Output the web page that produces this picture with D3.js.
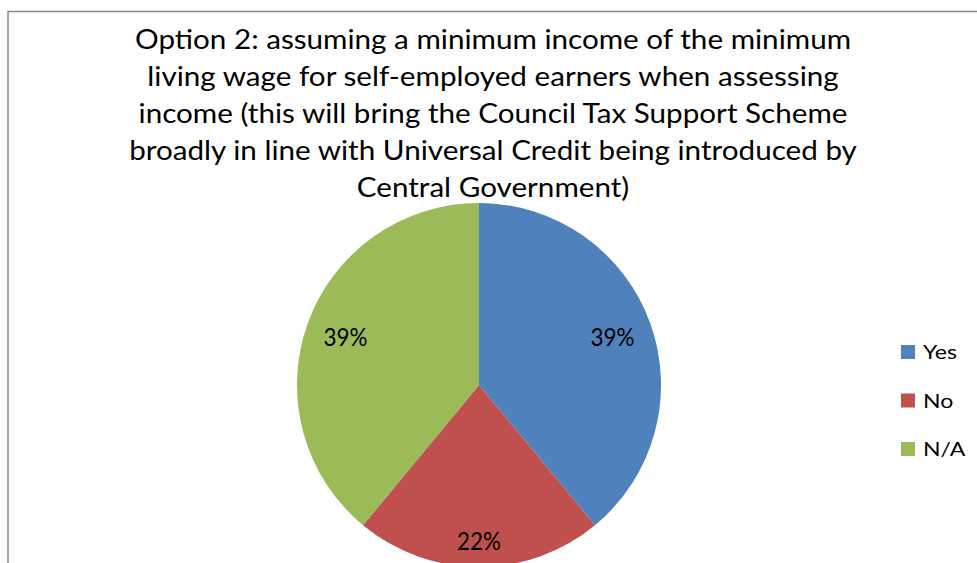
<!DOCTYPE html>
<html>
<head>
<meta charset="utf-8">
<script src="https://cdn.jsdelivr.net/npm/d3@7"></script>
<style>
  html, body { margin: 0; padding: 0; background: #fff; }
  svg { display: block; font-family: Lato, "Open Sans", sans-serif; }
</style>
</head>
<body>
<svg id="chart" width="977" height="563"></svg>
<script>
// Survey answers for Option 2
const categories = ["Yes", "No", "N/A"];
const percentages = [39, 22, 39];
const sliceColors = ["#4F81BD", "#C0504D", "#9BBB59"];
const titleLines = [
  "Option 2: assuming a minimum income of the minimum",
  "living wage for self-employed earners when assessing",
  "income (this will bring the Council Tax Support Scheme",
  "broadly in line with Universal Credit being introduced by",
  "Central Government)"
];

const width = 977, height = 563;
const svg = d3.select("#chart");
const CAP = 0.7165; // Lato cap height per em

// Chart-area frame (extends past the right and bottom edges)
svg.append("rect")
  .attr("x", 8).attr("y", 11.5)
  .attr("width", 1200).attr("height", 800)
  .attr("fill", "#fff")
  .attr("stroke", "#868686").attr("stroke-width", 1.5);

// Font size giving a text a target rendered width
function fitFont(str, targetWidth, startSize) {
  const t = svg.append("text").text(str).style("font-size", startSize + "px");
  const w = t.node().getComputedTextLength();
  t.remove();
  return startSize * targetWidth / w;
}
// Vertical stretch so capitals reach a target height
const stretch = (size, capPx) => capPx / (CAP * size);

// Pie
const cx = 479, cy = 385, radius = 182;
const color = d3.scaleOrdinal().domain(categories).range(sliceColors);
const pie = d3.pie().sort(null).value(d => d.value);
const arcs = pie(categories.map((c, i) => ({ name: c, value: percentages[i] })));
const arc = d3.arc().innerRadius(0).outerRadius(radius);

const pieG = svg.append("g").attr("transform", `translate(${cx},${cy})`);
pieG.selectAll("path.slice")
  .data(arcs)
  .join("path")
  .attr("class", "slice")
  .attr("d", arc)
  .attr("fill", d => color(d.data.name));

// Data labels, placed along each slice's mid-angle
const labelRadiusFactor = { "Yes": 0.78, "No": 0.855, "N/A": 0.78 };
const labelSize = fitFont("39%", 44, 24);
const labelK = stretch(labelSize, 18);
pieG.selectAll("text.value")
  .data(arcs)
  .join("text")
  .attr("class", "value")
  .attr("transform", d => {
    const a = (d.startAngle + d.endAngle) / 2;
    const r = radius * labelRadiusFactor[d.data.name];
    return `translate(${Math.sin(a) * r},${-Math.cos(a) * r + 9}) scale(1,${labelK})`;
  })
  .attr("text-anchor", "middle")
  .style("font-size", labelSize + "px")
  .attr("fill", "#000")
  .text(d => d.data.value + "%");

// Title (drawn over the pie)
const titleSize = fitFont(titleLines[3], 728, 28);
const titleK = stretch(titleSize, 20);
const titleY = d3.scalePoint().domain(d3.range(titleLines.length)).range([48.5, 197]);
svg.append("g").selectAll("text")
  .data(titleLines)
  .join("text")
  .attr("transform", (d, i) => `translate(493,${titleY(i)}) scale(1,${titleK})`)
  .attr("text-anchor", "middle")
  .style("font-size", titleSize + "px")
  .attr("fill", "#000")
  .text(d => d);

// Legend
const legendY = d3.scalePoint().domain(categories).range([359, 456]);
const legendSize = fitFont("Yes", 34, 22);
const legendK = stretch(legendSize, 14.3);
const items = svg.append("g").selectAll("g")
  .data(categories)
  .join("g")
  .attr("transform", d => `translate(0,${legendY(d)})`);
items.append("rect")
  .attr("x", 901).attr("y", -14)
  .attr("width", 14).attr("height", 14)
  .attr("fill", d => color(d));
items.append("text")
  .attr("transform", `translate(923,0) scale(1,${legendK})`)
  .style("font-size", legendSize + "px")
  .attr("fill", "#000")
  .text(d => d);
</script>
</body>
</html>
